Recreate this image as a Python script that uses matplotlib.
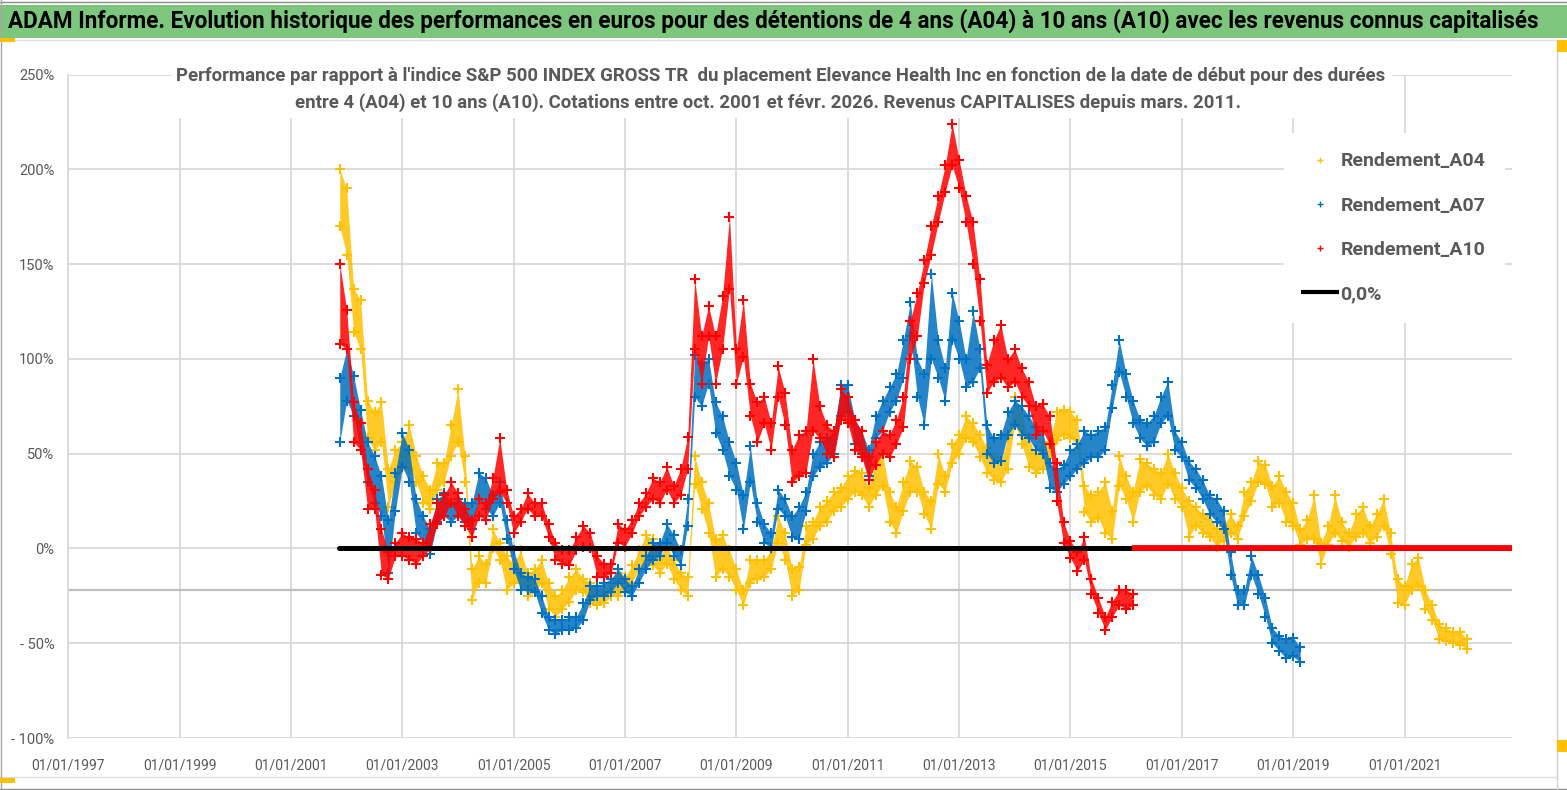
import numpy as np
import matplotlib
matplotlib.use("Agg")
import matplotlib.pyplot as plt
from matplotlib import font_manager
from matplotlib.lines import Line2D
from matplotlib.patches import Rectangle

# readings from the chart: one low/high pair of the point cloud every 1/8 year
start_year = 2001.875
step = 0.125

a04_lo = [170, 155, 114, 105, 58, 52, 56, 22, 35, 42, 42, 35, 24, 21, 31, 35, 49, 56, 35, -27,
          -18, -18, 0, -6, -22, -18, -18, -25, -23, -18, -32, -36, -32, -28, -22, -23, -29, -30, -29, -25,
          -25, -22, -18, -11, -6, -9, -13, -8, -16, -22, -25, 34, 21, 8, -15, -11, -15, -22, -30, -18,
          -16, -15, -11, 3, -6, -25, -22, 2, 5, 12, 14, 20, 22, 26, 30, 28, 22, 28, 33, 14,
          8, 20, 30, 30, 18, 10, 34, 30, 45, 50, 58, 56, 48, 40, 36, 35, 42, 66, 55, 43,
          40, 42, 45, 57, 60, 58, 55, 19, 14, 16, 8, 5, 33, 26, 14, 30, 33, 28, 26, 34,
          26, 22, 6, 12, 8, 6, 1, 4, 8, 5, 17, 25, 35, 34, 22, 24, 14, 12, 2, 5,
          5, -8, 2, 8, 4, 1, 6, 8, 3, 6, 12, -3, -29, -30, -22, -20, -32, -38, -48, -49,
          -50, -51, -53]
a04_hi = [200, 190, 137, 131, 78, 72, 77, 42, 52, 56, 65, 49, 38, 31, 45, 45, 65, 84, 49, -11,
          -4, -8, 10, 3, -4, -8, -1, -13, -11, -6, -18, -25, -22, -15, -11, -16, -18, -23, -22, -18,
          -13, -15, -9, -1, 7, 5, -4, 1, -6, -13, -15, 49, 35, 24, 5, 7, -1, -11, -22, -6,
          -6, -6, -1, 17, 8, -11, -10, 12, 14, 22, 25, 30, 32, 38, 41, 40, 32, 45, 50, 30,
          22, 35, 46, 43, 30, 25, 50, 38, 55, 60, 70, 66, 60, 53, 48, 46, 58, 80, 70, 58,
          50, 56, 56, 72, 73, 72, 68, 33, 28, 30, 35, 20, 49, 38, 30, 47, 45, 42, 40, 50,
          40, 32, 25, 22, 18, 18, 10, 12, 18, 12, 30, 35, 46, 44, 33, 38, 30, 24, 10, 15,
          28, 3, 12, 28, 14, 8, 18, 22, 12, 18, 26, 8, -16, -20, -8, -5, -22, -30, -40, -42,
          -44, -44, -48]

a07_lo = [56, 78, 70, 52, 35, 24, 17, -13, 20, 43, 35, 8, 3, -3, 14, 17, 14, 17, 14, 10,
          26, 21, 17, 24, 5, -11, -22, -22, -23, -34, -43, -45, -43, -43, -42, -38, -27, -25, -25, -23,
          -18, -23, -25, -18, -11, -6, -4, 3, -4, -9, 12, 80, 75, 87, 61, 52, 38, 31, 10, 35,
          14, 3, 0, 21, 17, 6, 5, 20, 38, 43, 45, 50, 70, 72, 55, 50, 38, 58, 62, 72,
          78, 90, 112, 80, 65, 100, 90, 78, 110, 100, 85, 88, 95, 50, 45, 46, 60, 65, 60, 58,
          52, 50, 32, 30, 34, 38, 42, 45, 48, 48, 52, 74, 93, 80, 66, 58, 54, 56, 66, 70,
          52, 48, 36, 32, 26, 18, 14, 10, -14, -30, -30, -14, -24, -36, -50, -54, -58, -57, -60]
a07_hi = [90, 105, 91, 73, 56, 49, 38, 15, 40, 61, 52, 26, 17, 10, 26, 29, 24, 26, 24, 24,
          40, 37, 28, 35, 15, -1, -13, -15, -16, -25, -36, -38, -38, -36, -36, -29, -20, -20, -18, -16,
          -11, -16, -20, -11, -4, 3, 3, 13, 7, -1, 26, 102, 98, 100, 77, 70, 56, 45, 28, 54,
          24, 13, 8, 31, 26, 17, 22, 30, 50, 56, 58, 62, 86, 86, 68, 62, 52, 70, 78, 85,
          92, 110, 130, 100, 92, 145, 110, 95, 135, 120, 100, 125, 105, 65, 58, 60, 72, 78, 75, 70,
          64, 62, 45, 42, 44, 52, 55, 62, 60, 62, 64, 86, 110, 92, 78, 68, 66, 70, 80, 88,
          62, 56, 46, 42, 36, 28, 26, 20, -2, -22, -22, -4, -14, -26, -42, -46, -48, -47, -52]

a10_lo = [108, 105, 56, 52, 21, 21, -14, -16, -4, -4, -6, -8, -4, 0, 13, 17, 24, 17, 12, 6,
          17, 15, 26, 30, 24, 8, 14, 21, 17, 17, 6, -6, -8, -9, -1, 1, 0, -15, -15, -13,
          3, 1, 8, 17, 22, 26, 24, 31, 24, 28, 42, 105, 87, 112, 87, 105, 137, 87, 101, 70,
          56, 66, 52, 80, 65, 35, 38, 40, 62, 58, 50, 48, 68, 66, 52, 48, 36, 44, 50, 48,
          55, 64, 100, 112, 140, 155, 172, 188, 202, 190, 172, 150, 120, 82, 88, 90, 85, 88, 80, 75,
          60, 62, 55, 25, 3, -5, -12, -6, -24, -34, -43, -36, -30, -32, -30]
a10_hi = [150, 126, 77, 66, 42, 31, 10, -2, 3, 8, 6, 5, 3, 13, 24, 28, 35, 29, 21, 15,
          26, 24, 37, 58, 31, 17, 21, 29, 24, 24, 13, 3, -1, -1, 6, 12, 8, -4, -8, -8,
          13, 10, 15, 24, 29, 37, 35, 43, 33, 42, 59, 142, 112, 128, 112, 133, 175, 105, 131, 87,
          77, 80, 66, 96, 82, 52, 60, 62, 100, 75, 65, 62, 84, 80, 68, 62, 48, 56, 62, 60,
          68, 80, 120, 135, 152, 170, 186, 202, 224, 205, 186, 172, 142, 97, 110, 118, 100, 105, 95, 88,
          75, 76, 70, 45, 14, 4, -2, 6, -16, -26, -36, -28, -22, -22, -24]

# A10 has no 10-year result after Feb 2016: shown as 0
a10_tail_dates = [2016.15, 2022.93]
a10_tail_values = [0, 0]
zero_dates = [2001.86, 2022.93]
zero_values = [0, 0]

year_ticks = list(range(1997, 2022, 2))
pct_ticks = [-100, -50, 0, 50, 100, 150, 200, 250]
axis_cross = -22

labels = ["Rendement_A04", "Rendement_A07", "Rendement_A10", "0,0%"]
colors = ["#FFC000", "#0070C0", "#FF0000"]

title = ("ADAM Informe. Evolution historique des performances en euros pour des détentions "
         "de 4 ans (A04) à 10 ans (A10) avec les revenus connus capitalisés")
sub1 = ("Performance par rapport à l'indice S&P 500 INDEX GROSS TR  du placement Elevance Health Inc "
        "en fonction de la date de début pour des durées")
sub2 = ("entre 4 (A04) et 10 ans (A10). Cotations entre oct. 2001 et févr. 2026. "
        "Revenus CAPITALISES depuis mars. 2011.")


def pick_font(names):
    for n in names:
        try:
            font_manager.findfont(font_manager.FontProperties(family=n), fallback_to_default=False)
            return n
        except ValueError:
            pass
    return "DejaVu Sans"


font = pick_font(["Liberation Sans Narrow", "Roboto", "Open Sans", "DejaVu Sans"])
plt.rcParams["font.family"] = [font, "DejaVu Sans"]

W, H = 1567, 790
fig = plt.figure(figsize=(W / 100, H / 100), dpi=100)
fig.patch.set_facecolor("white")


def fx(px):
    return px / W


def fy(py):
    return 1 - py / H


# banner and frame
fig.add_artist(Rectangle((0, fy(38)), 1, fy(5) - fy(38), transform=fig.transFigure,
                         facecolor="#7DC67D", edgecolor="none", zorder=0))
for (x0, y0, x1, y1, c) in [(0, 2, W, 2, "#8c8c8c"), (0, 40, 1557, 40, "#e0e0e0"),
                            (0, 777, 1557, 777, "#e0e0e0"), (0, 789, W, 789, "#8c8c8c"),
                            (1, 0, 1, H, "#a6a6a6"), (1557, 40, 1557, H, "#d0d0d0")]:
    fig.add_artist(Line2D([fx(x0), fx(x1)], [fy(y0), fy(y1)], transform=fig.transFigure,
                          color=c, lw=1, zorder=1))
for (x0, y0, w, h) in [(0, 38, 15, 4), (0, 778, 15, 5), (1557, 40, 10, 12), (1557, 740, 10, 12)]:
    fig.add_artist(Rectangle((fx(x0), fy(y0 + h)), fx(w), h / H, transform=fig.transFigure,
                             facecolor="#FFC000", edgecolor="none", zorder=1))

ax = fig.add_axes([fx(68.3), fy(738), fx(1512 - 68.3), (738 - 74.5) / H])
ax.set_xlim(1997, 2022.93)
ax.set_ylim(-100, 250)

ax.set_xticks(year_ticks)
ax.set_xticklabels(["01/01/%d" % y for y in year_ticks])
ax.set_yticks(pct_ticks)
ax.set_yticklabels([("- %d%%" % -v) if v < 0 else ("%d%%" % v) for v in pct_ticks])
ax.tick_params(length=0, colors="#595959", labelsize=10.5)
ax.tick_params(axis="x", labelsize=10, pad=15)
ax.tick_params(axis="y", pad=10)
ax.grid(color="#d9d9d9", lw=1.3, zorder=0)
ax.set_axisbelow(True)
for s in ["top", "right", "bottom"]:
    ax.spines[s].set_visible(False)
ax.spines["left"].set_color("#d9d9d9")
ax.spines["left"].set_linewidth(1.3)
ax.axhline(axis_cross, color="#bfbfbf", lw=1.6, zorder=1)

# each series: the cloud between the low and high readings, + marks on its edges
series = [(a04_lo, a04_hi), (a07_lo, a07_hi), (a10_lo, a10_hi)]
for i, (lo, hi) in enumerate(series):
    t = start_year + step * np.arange(len(lo))
    ax.fill_between(t, lo, hi, color=colors[i], lw=0, alpha=0.85, zorder=2 + i)
    ax.plot(np.concatenate([t, t]), np.concatenate([lo, hi]), ls="none", marker="+",
            ms=6.5, mew=1.5, color=colors[i], zorder=2 + i)

ax.plot(zero_dates, zero_values, color="black", lw=3.6, solid_capstyle="round", zorder=6)
ax.plot(a10_tail_dates, a10_tail_values, color=colors[2], lw=4.2, zorder=7)

handles = [Line2D([], [], ls="none", marker="+", ms=4, mew=1, color=c) for c in colors]
handles.append(Line2D([], [], color="black", lw=3))
leg = ax.legend(handles, labels, loc="upper left", bbox_to_anchor=(fx(1284), fy(133)),
                bbox_transform=fig.transFigure, frameon=True, facecolor="white", edgecolor="none",
                framealpha=1, fancybox=False, fontsize=14, handlelength=1.7, handletextpad=0.2,
                labelspacing=1.35, borderpad=1.0, borderaxespad=0)
leg.set_zorder(10)
for txt in leg.get_texts():
    txt.set_color("#595959")
    txt.set_fontweight("bold")

# title box covering grid behind the subtitle
fig.add_artist(Rectangle((fx(172), fy(118)), fx(1392 - 172), 60 / H, transform=fig.transFigure,
                         facecolor="white", edgecolor="none", zorder=2))

t0 = fig.text(fx(8), fy(21), title, ha="left", va="center", fontsize=16, fontweight="bold",
              color="black", zorder=3)
t1 = fig.text(fx(781), fy(76), sub1, ha="center", va="center", fontsize=13, fontweight="bold",
              color="#595959", zorder=3)
t2 = fig.text(fx(768), fy(103), sub2, ha="center", va="center", fontsize=13, fontweight="bold",
              color="#595959", zorder=3)

renderer = fig.canvas.get_renderer()
for txt, target in [(t0, 1537), (t1, 1211), (t2, 944)]:
    w = txt.get_window_extent(renderer=renderer).width
    txt.set_fontsize(txt.get_fontsize() * target / w)

fig.savefig("out.png", dpi=100, facecolor="white")
